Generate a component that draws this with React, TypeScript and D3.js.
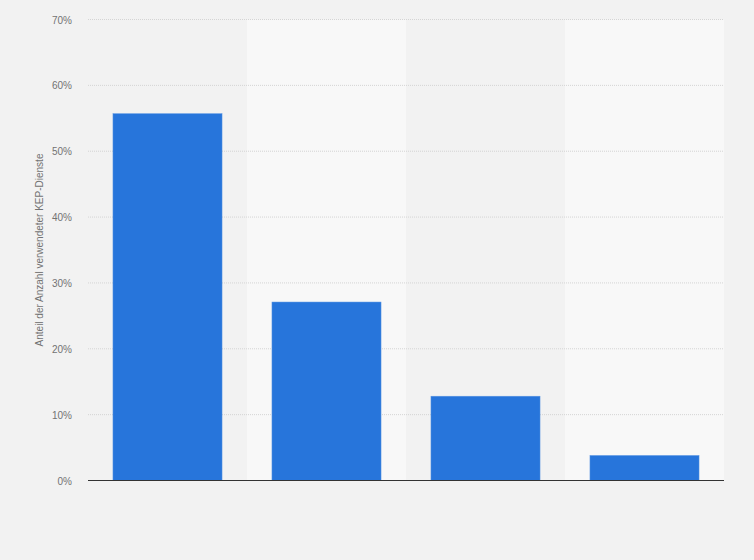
import React from "react";
import * as d3 from "d3";

const categories = ["A", "B", "C", "D"];
const values = [55.7, 27.1, 12.8, 3.8];
const yTicks = [0, 10, 20, 30, 40, 50, 60, 70];
const yTitle = "Anteil der Anzahl verwendeter KEP-Dienste";

const W = 754;
const H = 560;
const M = { left: 88, right: 30, top: 19.5, bottom: 79.5 };

export default function App() {
  const x = d3
    .scaleBand<string>()
    .domain(categories)
    .range([M.left, W - M.right])
    .paddingInner(0.314)
    .paddingOuter(0.157);
  const cols = d3.scaleBand<string>().domain(categories).range([M.left, W - M.right]).padding(0);
  const y = d3.scaleLinear().domain([0, 70]).range([H - M.bottom, M.top]);
  const font = "Arial, 'Liberation Sans', Helvetica, sans-serif";
  return (
    <svg width={W} height={H} style={{ position: "absolute", left: 0, top: 0 }} fontFamily={font}>
      <rect x={0} y={0} width={W} height={H} fill="#f2f2f2" />
      {categories.map((c, i) =>
        i % 2 === 1 ? (
          <rect key={c} x={cols(c)} y={M.top} width={cols.bandwidth()} height={y(0) - M.top} fill="#f8f8f8" />
        ) : null
      )}
      {yTicks.map((t) => (
        <g key={t}>
          {t > 0 && (
            <line
              x1={M.left}
              x2={W - M.right}
              y1={y(t)}
              y2={y(t)}
              stroke="#d4d4d4"
              strokeWidth={1}
              strokeDasharray="1,1"
            />
          )}
          <text x={72} y={y(t) + 4} textAnchor="end" fontSize={10} fill="#737373">
            {t}%
          </text>
        </g>
      ))}
      {categories.map((c, i) => (
        <rect
          key={c}
          x={x(c)}
          y={y(values[i])}
          width={x.bandwidth()}
          height={y(0) - y(values[i])}
          fill="#2775db"
          stroke="#5b95e3"
          strokeWidth={0.5}
        />
      ))}
      <line x1={M.left} x2={W - M.right} y1={y(0)} y2={y(0)} stroke="#333" strokeWidth={1} />
      <text
        transform={`translate(43, ${(y(0) + y(70)) / 2}) rotate(-90)`}
        textAnchor="middle"
        fontSize={10}
        fill="#737373"
      >
        {yTitle}
      </text>
    </svg>
  );
}
